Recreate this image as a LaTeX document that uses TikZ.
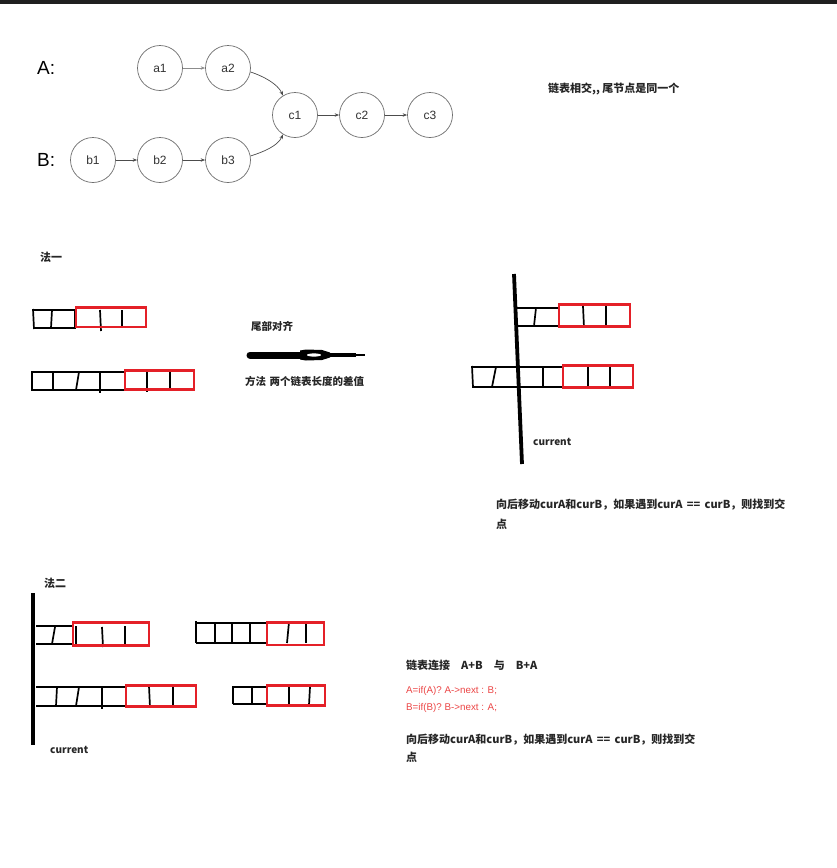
\documentclass[tikz,border=0pt]{standalone}
\usepackage{fontspec}
\setmainfont{Liberation Sans}
\newfontfamily\cjk{Noto Sans CJK SC}
\usetikzlibrary{arrows.meta}
\definecolor{redc}{RGB}{228,32,40}
\definecolor{codered}{RGB}{236,70,70}
\definecolor{circgray}{RGB}{110,110,110}
\tikzset{
  x=1pt, y=-1pt,
  lnode/.style={circle, draw=circgray, line width=0.7pt, minimum size=45pt, inner sep=0pt, font=\fontsize{12}{14}\selectfont, text=black!80},
  larrow/.style={-{Stealth[length=4.5pt,width=3.5pt]}, draw=black!70, line width=0.7pt},
  cellline/.style={line width=1.7pt, black},
  redbox/.style={line width=2.8pt, draw=redc},
  vbar/.style={line width=3.8pt, black},
  cjkbold/.style={font=\cjk\bfseries\fontsize{11}{15}\selectfont, text=black!85, inner sep=0pt, anchor=west},
  codetxt/.style={font=\fontsize{9.8}{12}\selectfont, text=codered, inner sep=0pt, anchor=west},
}
\begin{document}
\begin{tikzpicture}
\useasboundingbox (0,0) rectangle (837,868);
\fill[white] (0,0) rectangle (837,868);
\fill[black!88] (0,-1) rectangle (837,3.5);

% ---- linked lists graph
\node[font=\fontsize{19}{22}\selectfont, anchor=west, inner sep=0pt] (labA) at (37,68) {A:};
\node[font=\fontsize{19}{22}\selectfont, anchor=west, inner sep=0pt] (labB) at (37,160) {B:};
\node[lnode] (a1) at (160,68) {a1};
\node[lnode] (a2) at (228,68) {a2};
\node[lnode] (c1) at (295,115) {c1};
\node[lnode] (c2) at (362,115) {c2};
\node[lnode] (c3) at (430,115) {c3};
\node[lnode] (b1) at (93,160) {b1};
\node[lnode] (b2) at (160,160) {b2};
\node[lnode] (b3) at (228,160) {b3};
\draw[larrow, draw=black!45] (a1) -- (a2);
\draw[larrow] (b1) -- (b2);
\draw[larrow] (b2) -- (b3);
\draw[larrow] (c1) -- (c2);
\draw[larrow] (c2) -- (c3);
\draw[larrow] (a2.-10) .. controls (263,76) and (278,84) .. (c1.122);
\draw[larrow] (b3.10) .. controls (263,152) and (278,146) .. (c1.-122);

\node[cjkbold] (t1) at (548,89) {链表相交,, 尾节点是同一个};

% ---- method 1
\node[cjkbold] (m1) at (40,257) {法一};

% row 1
\draw[cellline] (33,310) -- (76,310);
\draw[cellline] (34,328) -- (76,328);
\draw[cellline] (33,309) -- (34,329);
\draw[cellline] (52,310) -- (51,328);
\draw[cellline] (75,310) -- (75,328);
\draw[cellline] (100,310) -- (101,331);
\draw[cellline] (122,310) -- (122,328);
\draw[redbox] (76,307.5) rectangle (146,327);
% row 2
\draw[cellline] (32,372) -- (125,372);
\draw[cellline] (31,390) -- (125,390);
\draw[cellline] (32,371) -- (32,390);
\draw[cellline] (53,372) -- (53,390);
\draw[cellline] (79,372) -- (76,390);
\draw[cellline] (100,372) -- (100,393);
\draw[cellline] (147,372) -- (147,392);
\draw[cellline] (170,372) -- (170,390);
\draw[redbox] (125,370.5) rectangle (194,389.5);

% middle arrow
\node[cjkbold, font=\cjk\bfseries\fontsize{10.5}{13}\selectfont] (t2) at (251,326) {尾部对齐};
\draw[line width=7pt, line cap=round] (250,355) -- (302,355);
\fill[black] (300,350.5) -- (306,349.5) -- (322,350) -- (330,352.5) -- (330,357.5) -- (322,360) -- (306,360.5) -- (300,359.5) -- cycle;
\fill[white] (314,355) ellipse (7pt and 1.6pt);
\draw[line width=3.5pt] (329,355) -- (356,355);
\draw[line width=2.2pt] (355,355) -- (365,355);
\node[cjkbold, font=\cjk\bfseries\fontsize{10.5}{13}\selectfont] (t3) at (245,381) {方法\,\,两个链表长度的差值};

% right side method 1
\draw[vbar] (514,274) -- (522,464);
\draw[cellline] (517,308) -- (559,308);
\draw[cellline] (517,326) -- (559,326);
\draw[cellline] (536,308) -- (534,326);
\draw[cellline] (583,306) -- (584,327);
\draw[cellline] (606,306) -- (606,327);
\draw[redbox] (559,304.5) rectangle (630,326.5);
\draw[cellline] (472,367) -- (563,367);
\draw[cellline] (472,387) -- (563,387);
\draw[cellline] (472,366) -- (473,387);
\draw[cellline] (496,367) -- (492,387);
\draw[cellline] (543,367) -- (543,387);
\draw[cellline] (588,366) -- (588,388);
\draw[cellline] (610,366) -- (610,388);
\draw[redbox] (563,365.5) rectangle (633,387.5);
\node[cjkbold, font=\cjk\bfseries\fontsize{10}{12}\selectfont] (cur1) at (533,442) {current};

\node[cjkbold] (t4) at (496,505) {向后移动curA和curB，如果遇到curA \,==\, curB，则找到交};
\node[cjkbold] (t5) at (496,524) {点};

% ---- method 2
\node[cjkbold] (m2) at (44,583) {法二};
\draw[vbar] (33,593) -- (33,745);
% row1 left
\draw[cellline] (36,626) -- (73,626);
\draw[cellline] (36,644) -- (73,644);
\draw[cellline] (55,627) -- (52,644);
\draw[cellline] (76,626) -- (76,644);
\draw[cellline] (102,627) -- (103,647);
\draw[cellline] (125,626) -- (125,644);
\draw[redbox] (73,622.5) rectangle (149,645.5);
% row1 right
\draw[cellline] (196,623) -- (267,623);
\draw[cellline] (196,643) -- (267,643);
\draw[cellline] (196,621) -- (196,643);
\draw[cellline] (215,623) -- (215,643);
\draw[cellline] (232,623) -- (232,643);
\draw[cellline] (250,623) -- (250,643);
\draw[cellline] (289,622) -- (287,643);
\draw[cellline] (306,623) -- (306,643);
\draw[redbox] (267,622.5) rectangle (324,645);
% row2 left
\draw[cellline] (36,687) -- (126,687);
\draw[cellline] (36,706) -- (126,706);
\draw[cellline] (57,687) -- (56,706);
\draw[cellline] (79,687) -- (76,706);
\draw[cellline] (102,687) -- (102,709);
\draw[cellline] (149,686) -- (150,707);
\draw[cellline] (173,686) -- (173,707);
\draw[redbox] (126,685.5) rectangle (196,706.5);
% row2 right
\draw[cellline] (233,687) -- (267,687);
\draw[cellline] (233,704) -- (267,704);
\draw[cellline] (233,686) -- (233,704);
\draw[cellline] (252,687) -- (252,704);
\draw[cellline] (289,687) -- (289,705);
\draw[cellline] (310,687) -- (309,705);
\draw[redbox] (267,685.5) rectangle (325,705.5);
\node[cjkbold, font=\cjk\bfseries\fontsize{10}{12}\selectfont] (cur2) at (50,750) {current};

\node[cjkbold] (t6) at (406,665) {链表连接\quad A+B\quad 与\quad B+A};
\node[codetxt] (code1) at (406,691) {A=if(A)? A->next : B;};
\node[codetxt] (code2) at (406,708) {B=if(B)? B->next : A;};
\node[cjkbold] (t7) at (406,740) {向后移动curA和curB，如果遇到curA \,==\, curB，则找到交};
\node[cjkbold] (t8) at (406,757) {点};
\end{tikzpicture}
\end{document}
